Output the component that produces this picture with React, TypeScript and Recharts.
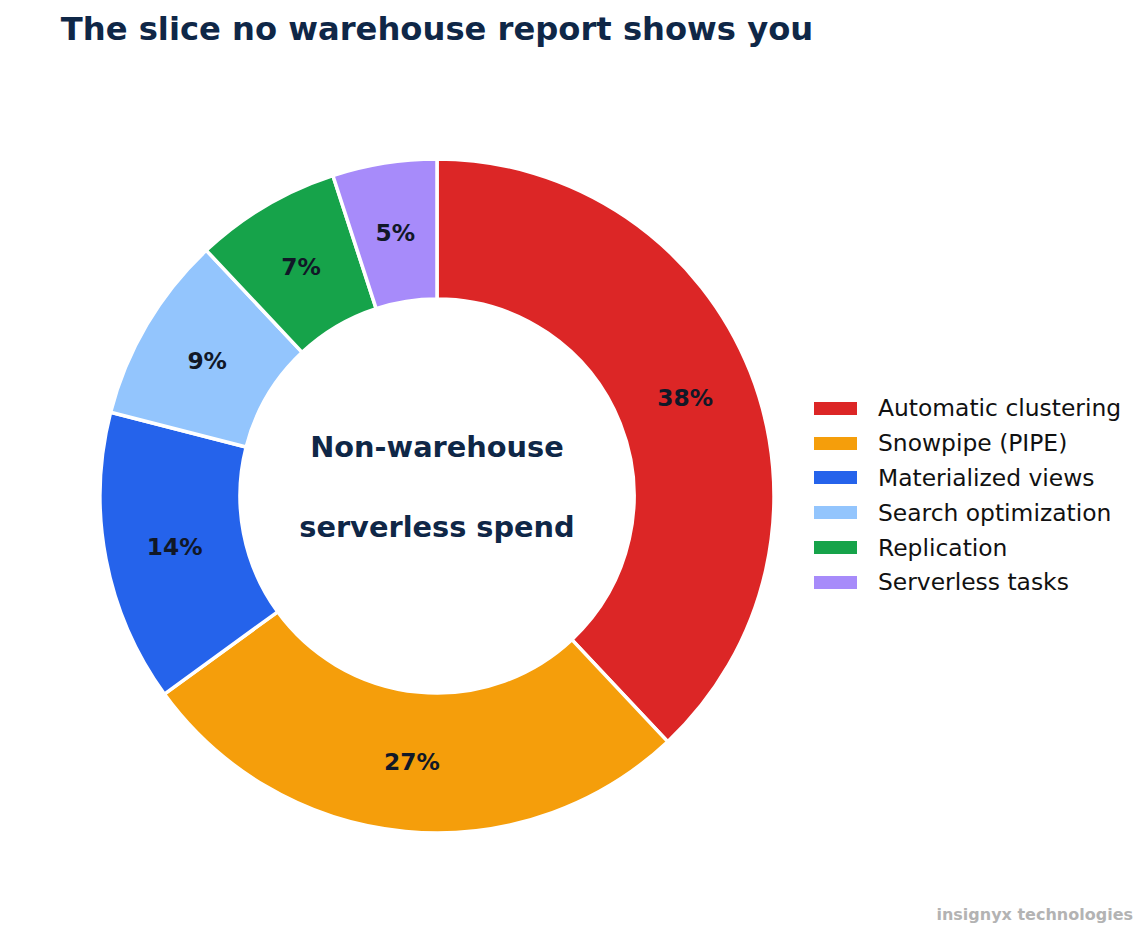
import { PieChart, Pie, Cell, Legend } from 'recharts'

const categories = [
  'Automatic clustering',
  'Snowpipe (PIPE)',
  'Materialized views',
  'Search optimization',
  'Replication',
  'Serverless tasks',
]
const shares = [38, 27, 14, 9, 7, 5]
const colors = ['#dc2626', '#f59e0b', '#2563eb', '#93c5fd', '#16a34a', '#a78bfa']

const data = categories.map((name, i) => ({ name, value: shares[i] }))

const font = '"DejaVu Sans", sans-serif'
const navy = '#0f2747'

const RADIAN = Math.PI / 180

const renderLabel = (props: any) => {
  const { cx, cy, midAngle, innerRadius, outerRadius, value } = props
  const r = (innerRadius + outerRadius) / 2
  const x = cx + r * Math.cos(-midAngle * RADIAN)
  const y = cy + r * Math.sin(-midAngle * RADIAN)
  return (
    <text
      x={x}
      y={y}
      textAnchor="middle"
      dominantBaseline="central"
      fill="#111827"
      fontFamily={font}
      fontWeight="bold"
      fontSize={23.3}
    >
      {`${value}%`}
    </text>
  )
}

const LegendContent = () => (
  <div style={{ fontFamily: font }}>
    {categories.map((name, i) => (
      <div key={name} style={{ display: 'flex', alignItems: 'center', height: 34.8 }}>
        <div style={{ width: 43, height: 13, background: colors[i], marginRight: 21 }} />
        <span style={{ fontSize: 23.4, color: '#111', whiteSpace: 'nowrap' }}>{name}</span>
      </div>
    ))}
  </div>
)

export default function App() {
  return (
    <div style={{ position: 'absolute', left: 0, top: 0, width: 1146, height: 934, background: '#fff' }}>
      <div
        style={{
          position: 'absolute',
          left: 37,
          width: 800,
          top: 13,
          textAlign: 'center',
          fontFamily: font,
          fontWeight: 'bold',
          fontSize: 32.2,
          lineHeight: 1,
          color: navy,
        }}
      >
        The slice no warehouse report shows you
      </div>
      <PieChart width={1146} height={934} margin={{ top: 0, right: 0, bottom: 0, left: 0 }}>
        <Pie
          data={data}
          dataKey="value"
          nameKey="name"
          cx={437}
          cy={496}
          innerRadius={197}
          outerRadius={337}
          startAngle={90}
          endAngle={-270}
          stroke="#ffffff"
          strokeWidth={3.5}
          label={renderLabel}
          labelLine={false}
          isAnimationActive={false}
        >
          {data.map((d, i) => (
            <Cell key={d.name} fill={colors[i]} />
          ))}
        </Pie>
        <Legend
          layout="vertical"
          align="right"
          verticalAlign="middle"
          content={<LegendContent />}
          wrapperStyle={{ position: 'absolute', left: 814, top: 391, width: 330 }}
        />
      </PieChart>
      <div
        style={{
          position: 'absolute',
          left: 237,
          width: 400,
          top: 433,
          textAlign: 'center',
          fontFamily: font,
          fontWeight: 'bold',
          fontSize: 28.8,
          color: navy,
        }}
      >
        <div style={{ height: 0, lineHeight: 1, position: 'relative' }}>Non-warehouse</div>
        <div style={{ lineHeight: 1, position: 'relative', top: 80 }}>serverless spend</div>
      </div>
      <div
        style={{
          position: 'absolute',
          right: 13,
          top: 907,
          fontFamily: font,
          fontWeight: 'bold',
          fontSize: 16,
          lineHeight: 1,
          color: '#b3b3b3',
        }}
      >
        insignyx technologies
      </div>
    </div>
  )
}
